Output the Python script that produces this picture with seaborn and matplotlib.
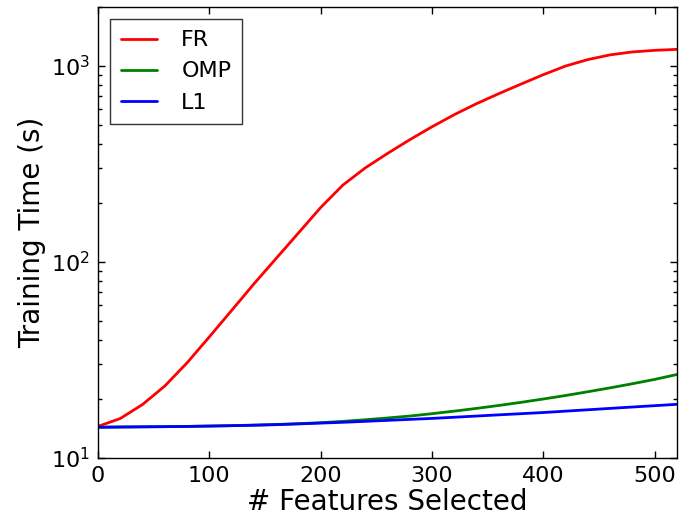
import numpy as np
import pandas as pd
import matplotlib
matplotlib.use("Agg")
import matplotlib.pyplot as plt
import seaborn as sns
from matplotlib.ticker import LogLocator, NullFormatter, FixedLocator

# Number of selected features
features = [0, 20, 40, 60, 80, 100, 120, 140, 160, 180, 200, 220, 240, 260,
            280, 300, 320, 340, 360, 380, 400, 420, 440, 460, 480, 500, 520]

# Training time (seconds) for each selection method
fr_time = [14.5, 15.9, 18.75, 23.3, 30.6, 41.5, 56.6, 77.3, 104.3, 140.6, 189.7,
           247.2, 302.0, 358.0, 420.7, 489.8, 564.9, 642.7, 722.8, 809.1, 903.6,
           1000.0, 1079.0, 1140.0, 1180.0, 1202.0, 1216.0]
omp_time = [14.35, 14.39, 14.42, 14.45, 14.49, 14.55, 14.62, 14.72, 14.83, 14.96,
            15.14, 15.38, 15.67, 16.0, 16.37, 16.83, 17.34, 17.91, 18.54, 19.23,
            20.0, 20.84, 21.78, 22.8, 23.93, 25.18, 26.67]
l1_time = [14.35, 14.39, 14.42, 14.45, 14.49, 14.55, 14.62, 14.69, 14.79, 14.93,
           15.07, 15.21, 15.38, 15.56, 15.74, 15.92, 16.14, 16.37, 16.6, 16.83,
           17.06, 17.34, 17.62, 17.91, 18.2, 18.49, 18.79]

methods = ["FR", "OMP", "L1"]
colors = ["red", "green", "blue"]

df = pd.DataFrame({
    "features": features * 3,
    "time": fr_time + omp_time + l1_time,
    "method": [m for m in methods for _ in features],
})

sns.set_style("white")
plt.rcParams["font.family"] = ["DejaVu Sans"]
plt.rcParams.update({
    "text.color": "black",
    "axes.labelcolor": "black",
    "xtick.color": "black",
    "ytick.color": "black",
    "xtick.direction": "in",
    "ytick.direction": "in",
    "xtick.bottom": True,
    "ytick.left": True,
    "xtick.top": True,
    "ytick.right": True,
    "axes.edgecolor": "black",
    "axes.linewidth": 1.0,
})

fig = plt.figure(figsize=(6.82, 5.15), dpi=100)
ax = fig.add_axes([0.1437, 0.1107, 0.8490, 0.8757])

sns.lineplot(data=df, x="features", y="time", hue="method", hue_order=methods,
             palette=colors, linewidth=2, ax=ax, legend=True)

ax.set_yscale("log")
ax.set_xlim(0, 520)
ax.set_ylim(10, 2000)
ax.xaxis.set_major_locator(FixedLocator([0, 100, 200, 300, 400, 500]))
ax.yaxis.set_major_locator(LogLocator(base=10))
ax.yaxis.set_minor_locator(LogLocator(base=10, subs=np.arange(2, 10)))
ax.yaxis.set_minor_formatter(NullFormatter())

ax.tick_params(axis="both", which="major", length=5, width=1, labelsize=16,
               bottom=True, left=True, top=True, right=True, color="black",
               labelcolor="black")
ax.tick_params(axis="y", which="minor", length=3, width=1, left=True,
               right=True, color="black")
ax.tick_params(axis="x", which="both", pad=6)
ax.tick_params(axis="y", which="both", pad=6)

ax.set_xlabel("# Features Selected", fontsize=20, labelpad=1, color="black")
ax.set_ylabel("Training Time (s)", fontsize=20, labelpad=3, color="black")

for spine in ax.spines.values():
    spine.set_visible(True)
    spine.set_color("black")

leg = ax.legend(loc="upper left", fontsize=16, frameon=True, fancybox=False,
                edgecolor="black", handlelength=1.6, borderpad=0.5,
                labelspacing=0.5, handletextpad=1.1, borderaxespad=0.55)
leg.get_frame().set_linewidth(1.0)
for t in leg.get_texts():
    t.set_color("black")

fig.savefig("out.png", dpi=100, facecolor="white")
